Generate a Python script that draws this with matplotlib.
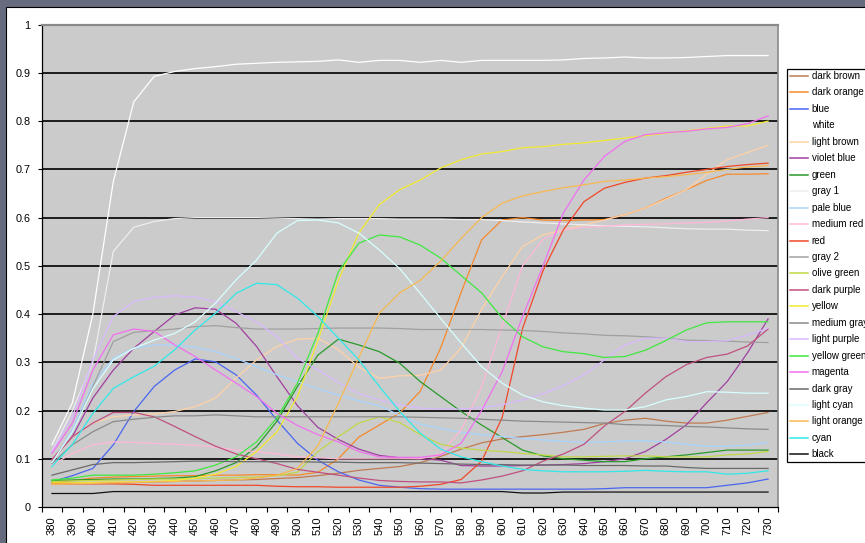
import numpy as np
import matplotlib
matplotlib.use("Agg")
import matplotlib.pyplot as plt
from matplotlib.patches import Rectangle
from matplotlib.lines import Line2D
from matplotlib.ticker import FixedLocator

plt.rcParams["font.family"] = ["Liberation Sans", "DejaVu Sans"]

# Wavelengths (nm) of the measured reflectance spectra
wavelengths = list(range(380, 731, 10))

dark_brown = [0.050, 0.050, 0.050, 0.050, 0.051, 0.052, 0.053, 0.054, 0.055, 0.056, 0.057, 0.059,
              0.061, 0.065, 0.070, 0.076, 0.080, 0.084, 0.092, 0.105, 0.120, 0.133, 0.141, 0.146,
              0.150, 0.155, 0.161, 0.173, 0.180, 0.184, 0.178, 0.174, 0.174, 0.180, 0.188, 0.196]
dark_orange = [0.050, 0.055, 0.060, 0.062, 0.063, 0.064, 0.065, 0.065, 0.066, 0.066, 0.067, 0.067,
               0.066, 0.072, 0.100, 0.145, 0.170, 0.195, 0.240, 0.330, 0.445, 0.554, 0.595, 0.600,
               0.595, 0.594, 0.595, 0.596, 0.606, 0.620, 0.640, 0.658, 0.677, 0.690, 0.690, 0.691]
blue = [0.052, 0.065, 0.080, 0.129, 0.198, 0.250, 0.284, 0.307, 0.301, 0.274, 0.232, 0.180,
        0.132, 0.097, 0.073, 0.056, 0.045, 0.041, 0.038, 0.037, 0.037, 0.037, 0.037, 0.037,
        0.037, 0.037, 0.037, 0.038, 0.040, 0.040, 0.040, 0.040, 0.040, 0.045, 0.050, 0.058]
white = [0.129, 0.216, 0.400, 0.675, 0.840, 0.893, 0.903, 0.909, 0.913, 0.918, 0.920, 0.922,
         0.923, 0.924, 0.927, 0.922, 0.926, 0.926, 0.922, 0.926, 0.922, 0.926, 0.926, 0.926,
         0.926, 0.927, 0.930, 0.931, 0.933, 0.931, 0.931, 0.932, 0.934, 0.936, 0.936, 0.936]
light_brown = [0.098, 0.146, 0.174, 0.187, 0.191, 0.193, 0.198, 0.208, 0.226, 0.267, 0.305, 0.333,
               0.348, 0.350, 0.326, 0.290, 0.267, 0.272, 0.273, 0.284, 0.330, 0.410, 0.478, 0.540,
               0.564, 0.575, 0.585, 0.595, 0.606, 0.620, 0.638, 0.658, 0.690, 0.720, 0.735, 0.750]
violet_blue = [0.098, 0.146, 0.226, 0.284, 0.329, 0.364, 0.398, 0.413, 0.410, 0.381, 0.333, 0.270,
               0.210, 0.165, 0.140, 0.120, 0.107, 0.102, 0.100, 0.097, 0.086, 0.085, 0.085, 0.086,
               0.087, 0.088, 0.090, 0.094, 0.100, 0.115, 0.140, 0.170, 0.216, 0.260, 0.320, 0.390]
green = [0.055, 0.056, 0.057, 0.058, 0.058, 0.059, 0.060, 0.063, 0.075, 0.092, 0.125, 0.178,
         0.250, 0.315, 0.348, 0.336, 0.322, 0.298, 0.260, 0.229, 0.198, 0.170, 0.144, 0.118,
         0.106, 0.100, 0.097, 0.094, 0.094, 0.100, 0.104, 0.108, 0.113, 0.118, 0.118, 0.118]
gray_1 = [0.115, 0.200, 0.300, 0.530, 0.580, 0.592, 0.598, 0.600, 0.600, 0.600, 0.600, 0.599,
          0.598, 0.597, 0.598, 0.598, 0.598, 0.597, 0.597, 0.597, 0.596, 0.596, 0.594, 0.591,
          0.589, 0.587, 0.585, 0.583, 0.582, 0.581, 0.579, 0.577, 0.576, 0.576, 0.574, 0.573]
pale_blue = [0.090, 0.160, 0.257, 0.308, 0.329, 0.336, 0.336, 0.331, 0.322, 0.308, 0.291, 0.274,
             0.260, 0.245, 0.232, 0.220, 0.210, 0.190, 0.172, 0.163, 0.155, 0.150, 0.146, 0.142,
             0.139, 0.136, 0.134, 0.135, 0.137, 0.137, 0.135, 0.130, 0.126, 0.126, 0.128, 0.134]
medium_red = [0.087, 0.111, 0.129, 0.135, 0.134, 0.132, 0.130, 0.128, 0.124, 0.118, 0.115, 0.110,
              0.104, 0.102, 0.100, 0.100, 0.100, 0.100, 0.100, 0.110, 0.160, 0.250, 0.375, 0.500,
              0.555, 0.575, 0.580, 0.582, 0.585, 0.586, 0.587, 0.589, 0.590, 0.593, 0.597, 0.600]
red = [0.048, 0.048, 0.048, 0.048, 0.047, 0.045, 0.045, 0.045, 0.045, 0.045, 0.045, 0.043,
       0.042, 0.042, 0.041, 0.041, 0.041, 0.041, 0.043, 0.047, 0.057, 0.095, 0.185, 0.370,
       0.490, 0.575, 0.633, 0.661, 0.673, 0.682, 0.687, 0.694, 0.700, 0.706, 0.710, 0.713]
gray_2 = [0.094, 0.153, 0.250, 0.343, 0.362, 0.366, 0.369, 0.374, 0.376, 0.372, 0.369, 0.369,
          0.369, 0.370, 0.371, 0.371, 0.371, 0.370, 0.368, 0.368, 0.368, 0.368, 0.367, 0.366,
          0.364, 0.361, 0.359, 0.356, 0.355, 0.353, 0.350, 0.346, 0.345, 0.344, 0.342, 0.341]
olive_green = [0.053, 0.054, 0.055, 0.056, 0.057, 0.058, 0.058, 0.059, 0.060, 0.061, 0.062, 0.065,
               0.072, 0.115, 0.146, 0.174, 0.187, 0.175, 0.150, 0.130, 0.122, 0.118, 0.115, 0.111,
               0.108, 0.104, 0.104, 0.105, 0.106, 0.106, 0.104, 0.104, 0.104, 0.108, 0.110, 0.115]
dark_purple = [0.098, 0.146, 0.174, 0.196, 0.196, 0.187, 0.167, 0.146, 0.126, 0.110, 0.100, 0.090,
               0.078, 0.072, 0.066, 0.060, 0.055, 0.053, 0.052, 0.052, 0.050, 0.056, 0.064, 0.075,
               0.095, 0.110, 0.130, 0.168, 0.198, 0.236, 0.270, 0.295, 0.310, 0.317, 0.334, 0.369]
yellow = [0.050, 0.050, 0.051, 0.052, 0.052, 0.053, 0.055, 0.060, 0.068, 0.084, 0.115, 0.156,
          0.229, 0.345, 0.470, 0.568, 0.627, 0.658, 0.678, 0.703, 0.720, 0.732, 0.737, 0.745,
          0.747, 0.752, 0.755, 0.760, 0.765, 0.770, 0.775, 0.780, 0.785, 0.790, 0.790, 0.800]
medium_gray = [0.090, 0.129, 0.156, 0.177, 0.182, 0.186, 0.189, 0.189, 0.191, 0.189, 0.187, 0.187,
               0.187, 0.187, 0.187, 0.187, 0.187, 0.187, 0.186, 0.185, 0.184, 0.182, 0.180, 0.178,
               0.177, 0.176, 0.175, 0.174, 0.171, 0.170, 0.169, 0.167, 0.166, 0.164, 0.162, 0.161]
light_purple = [0.115, 0.187, 0.305, 0.395, 0.426, 0.435, 0.438, 0.435, 0.426, 0.405, 0.384, 0.353,
                0.308, 0.284, 0.258, 0.235, 0.222, 0.212, 0.205, 0.203, 0.203, 0.206, 0.212, 0.222,
                0.235, 0.252, 0.274, 0.305, 0.336, 0.350, 0.350, 0.343, 0.343, 0.345, 0.356, 0.371]
yellow_green = [0.056, 0.060, 0.066, 0.066, 0.066, 0.068, 0.071, 0.075, 0.087, 0.104, 0.135, 0.185,
                0.257, 0.360, 0.488, 0.547, 0.564, 0.560, 0.543, 0.516, 0.480, 0.444, 0.392, 0.353,
                0.332, 0.322, 0.318, 0.310, 0.312, 0.325, 0.345, 0.367, 0.382, 0.384, 0.384, 0.384]
magenta = [0.111, 0.174, 0.284, 0.357, 0.369, 0.364, 0.336, 0.312, 0.284, 0.257, 0.229, 0.194,
           0.169, 0.150, 0.135, 0.115, 0.104, 0.103, 0.103, 0.108, 0.132, 0.200, 0.280, 0.395,
           0.500, 0.610, 0.678, 0.727, 0.758, 0.772, 0.776, 0.779, 0.784, 0.787, 0.795, 0.811]
dark_gray = [0.066, 0.077, 0.088, 0.092, 0.092, 0.093, 0.094, 0.095, 0.095, 0.094, 0.094, 0.094,
             0.094, 0.093, 0.093, 0.092, 0.092, 0.092, 0.091, 0.090, 0.089, 0.088, 0.088, 0.087,
             0.087, 0.087, 0.086, 0.086, 0.086, 0.085, 0.085, 0.082, 0.080, 0.080, 0.080, 0.080]
light_cyan = [0.092, 0.155, 0.245, 0.305, 0.329, 0.346, 0.360, 0.384, 0.423, 0.471, 0.512, 0.568,
              0.594, 0.595, 0.589, 0.568, 0.533, 0.494, 0.443, 0.391, 0.340, 0.291, 0.257, 0.232,
              0.218, 0.210, 0.205, 0.201, 0.201, 0.208, 0.222, 0.229, 0.239, 0.238, 0.236, 0.236]
light_orange = [0.047, 0.048, 0.049, 0.050, 0.051, 0.052, 0.053, 0.054, 0.055, 0.056, 0.060, 0.066,
                0.080, 0.127, 0.215, 0.310, 0.402, 0.444, 0.470, 0.510, 0.557, 0.600, 0.630, 0.645,
                0.654, 0.662, 0.668, 0.675, 0.678, 0.682, 0.685, 0.689, 0.694, 0.700, 0.705, 0.708]
cyan = [0.084, 0.130, 0.194, 0.246, 0.270, 0.292, 0.326, 0.367, 0.402, 0.443, 0.464, 0.461,
        0.433, 0.395, 0.350, 0.305, 0.250, 0.198, 0.153, 0.120, 0.104, 0.094, 0.085, 0.078,
        0.075, 0.073, 0.073, 0.073, 0.074, 0.076, 0.074, 0.073, 0.073, 0.068, 0.070, 0.075]
black = [0.028, 0.028, 0.028, 0.032, 0.032, 0.032, 0.032, 0.032, 0.032, 0.032, 0.032, 0.032,
         0.032, 0.032, 0.032, 0.032, 0.032, 0.032, 0.032, 0.032, 0.032, 0.032, 0.032, 0.029,
         0.029, 0.031, 0.031, 0.031, 0.031, 0.031, 0.031, 0.031, 0.031, 0.031, 0.031, 0.031]

series_names = ["dark brown", "dark orange", "blue", "white", "light brown", "violet blue",
                "green", "gray 1", "pale blue", "medium red", "red", "gray 2", "olive green",
                "dark purple", "yellow", "medium gray", "light purple", "yellow green",
                "magenta", "dark gray", "light cyan", "light orange", "cyan", "black"]
series_values = [dark_brown, dark_orange, blue, white, light_brown, violet_blue, green, gray_1,
                 pale_blue, medium_red, red, gray_2, olive_green, dark_purple, yellow,
                 medium_gray, light_purple, yellow_green, magenta, dark_gray, light_cyan,
                 light_orange, cyan, black]
series_colors = ["#c07a52", "#f58a2c", "#4a66f0", "#ffffff", "#ffd2a6", "#a040a0",
                 "#2a9a2a", "#eeeeee", "#a8d4ff", "#ffb8d8", "#f04828", "#a0a0a0",
                 "#c0d848", "#c05080", "#f2ea30", "#8a8a8a", "#d8b8ff", "#40e840",
                 "#f070f0", "#6a6a6a", "#d8ffff", "#f8b850", "#30e8e8", "#111111"]

y_ticks = [i / 10 for i in range(11)]
y_tick_labels = ["0", "0.1", "0.2", "0.3", "0.4", "0.5", "0.6", "0.7", "0.8", "0.9", "1"]

W, H = 865, 543


def fx(px):
    return px / W


def fy(py):
    return 1 - py / H


fig = plt.figure(figsize=(W / 100, H / 100), dpi=100)
fig.patch.set_facecolor("#666c7e")
fig.add_artist(Rectangle((fx(5.5), -0.02), 1.0, fy(6.5) + 0.02, transform=fig.transFigure,
                         facecolor="white", edgecolor="black", lw=0.8, zorder=0))

left, right, top, bottom = 41.7, 778.3, 24.7, 507.0
ax = fig.add_axes([fx(left), fy(bottom), fx(right - left), (bottom - top) / H])
ax.set_facecolor("#cbcbcb")

x = np.arange(len(wavelengths))
for vals, color in zip(series_values, series_colors):
    ax.plot(x, vals, color=color, lw=0.9, solid_joinstyle="miter", zorder=3)

ax.set_xlim(-0.5, len(wavelengths) - 0.5)
ax.set_ylim(0, 1)

for level in y_ticks[1:-1]:
    ax.axhline(level, color="black", lw=1.2, zorder=1)

ax.set_yticks(y_ticks)
ax.set_yticklabels(y_tick_labels, fontsize=7.8)
ax.tick_params(axis="y", direction="out", length=3, width=0.8, pad=5, colors="black")

ax.set_xticks(x)
ax.set_xticklabels([str(w) for w in wavelengths], rotation=90, fontsize=8)
ax.xaxis.set_minor_locator(FixedLocator(np.arange(-0.5, len(wavelengths), 1.0)))
ax.tick_params(axis="x", which="major", length=0, pad=7)
ax.tick_params(axis="x", which="minor", direction="out", length=3.5, width=0.8, color="black")

for side in ("left", "bottom"):
    ax.spines[side].set_color("black")
    ax.spines[side].set_linewidth(0.9)
ax.spines["top"].set_color("#8a8a8a")
ax.spines["top"].set_linewidth(1.6)
ax.spines["right"].set_color("#8a8a8a")
ax.spines["right"].set_linewidth(1.2)

# Legend box on the right
leg_left, leg_top, leg_bottom = 786.7, 69.3, 462.3
fig.add_artist(Rectangle((fx(leg_left), fy(leg_bottom)), fx(200), (leg_bottom - leg_top) / H,
                         transform=fig.transFigure, facecolor="white", edgecolor="black",
                         lw=0.9, zorder=5))
row0, row_step = 76.0, 16.45
for i, (name, color) in enumerate(zip(series_names, series_colors)):
    yy = fy(row0 + i * row_step)
    fig.add_artist(Line2D([fx(790), fx(808)], [yy, yy], transform=fig.transFigure,
                          color=color, lw=1.1, zorder=6))
    fig.text(fx(811.7), yy, name, fontsize=7, va="center", ha="left", color="black", zorder=6)

fig.savefig("out.png", dpi=100, facecolor=fig.get_facecolor())
